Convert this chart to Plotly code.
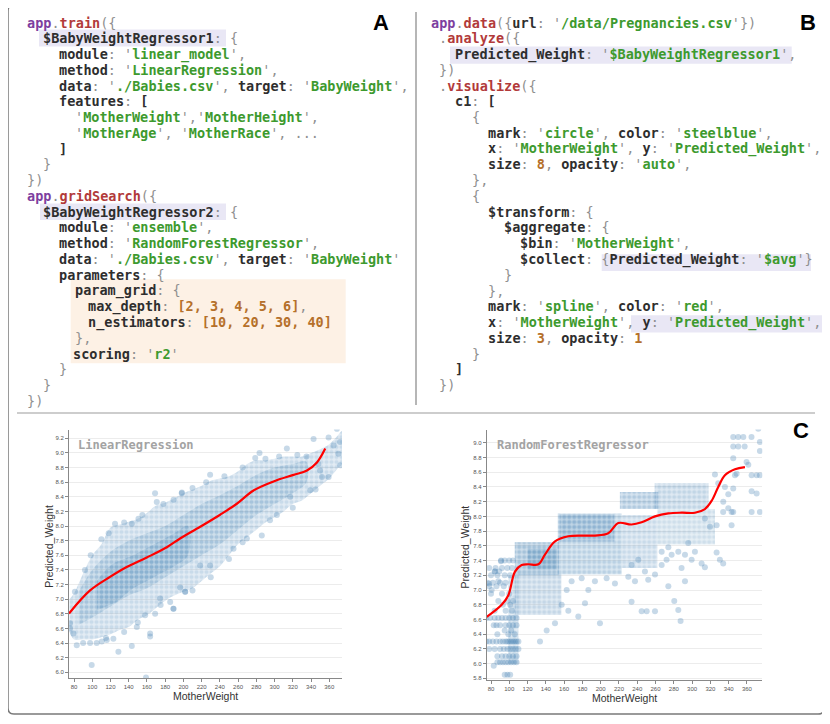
"""
Two code panels plus the two regression scatter plots (Babies data)
"""
import re
import plotly.graph_objects as go

W, H = 830, 724

# ---- code shown in panels A and B ----
CODE_A = [
    "app.train({",
    "$BabyWeightRegressor1: {",
    "module: 'linear_model',",
    "method: 'LinearRegression',",
    "data: './Babies.csv', target: 'BabyWeight',",
    "features: [",
    "'MotherWeight','MotherHeight',",
    "'MotherAge', 'MotherRace', ...",
    "]",
    "}",
    "})",
    "app.gridSearch({",
    "$BabyWeightRegressor2: {",
    "module: 'ensemble',",
    "method: 'RandomForestRegressor',",
    "data: './Babies.csv', target: 'BabyWeight'",
    "parameters: {",
    "param_grid: {",
    "max_depth: [2, 3, 4, 5, 6],",
    "n_estimators: [10, 20, 30, 40]",
    "},",
    "scoring: 'r2'",
    "}",
    "}",
    "})",
]
INDENT_A = [0, 2, 4, 4, 4, 4, 6, 6, 4, 2, 0, 0, 2, 4, 4, 4, 4, 6, 7.6, 7.6, 6, 5.7, 4, 2, 0]

CODE_B = [
    "app.data({url: '/data/Pregnancies.csv'})",
    ".analyze({",
    "Predicted_Weight: '$BabyWeightRegressor1',",
    "})",
    ".visualize({",
    "c1: [",
    "{",
    "mark: 'circle', color: 'steelblue',",
    "x: 'MotherWeight', y: 'Predicted_Weight',",
    "size: 8, opacity: 'auto',",
    "},",
    "{",
    "$transform: {",
    "$aggregate: {",
    "$bin: 'MotherWeight',",
    "$collect: {Predicted_Weight: '$avg'}",
    "}",
    "},",
    "mark: 'spline', color: 'red',",
    "x: 'MotherWeight', y: 'Predicted_Weight',",
    "size: 3, opacity: 1",
    "}",
    "]",
    "})",
]
INDENT_B = [0, 1, 3, 1, 1, 3, 5, 7, 7, 7, 5, 5, 7, 9, 11, 11, 9, 7, 7, 7, 7, 5, 3, 1]

# ---- LinearRegression scatter (cloud outline) ----
lr_outer_x = [75, 80, 90, 100, 110, 120, 130, 140, 150, 160, 170, 180, 190, 200, 210, 220,
              230, 240, 250, 260, 270, 280, 290, 300, 310, 320, 330, 340, 350, 360, 370, 374]
lr_outer_hi = [7.0, 7.08, 7.35, 7.6, 7.75, 7.98, 8.02, 8.06, 8.1, 8.18, 8.28, 8.32, 8.38, 8.45, 8.5, 8.55,
               8.62, 8.65, 8.68, 8.75, 8.85, 8.9, 8.9, 8.92, 8.95, 8.95, 8.95, 9.0, 9.05, 9.12, 9.25, 9.3]
lr_outer_lo = [6.55, 6.45, 6.45, 6.45, 6.48, 6.52, 6.58, 6.62, 6.72, 6.78, 6.88, 6.98, 7.05, 7.1, 7.15, 7.25,
               7.35, 7.45, 7.6, 7.75, 7.85, 7.95, 8.05, 8.12, 8.2, 8.3, 8.35, 8.45, 8.55, 8.65, 8.8, 8.85]
lr_mid_x = [85, 100, 120, 140, 160, 180, 200, 220, 240, 260, 280, 300, 320, 335]
lr_mid_hi = [7.1, 7.4, 7.65, 7.8, 7.9, 8.0, 8.15, 8.3, 8.42, 8.55, 8.7, 8.8, 8.85, 8.88]
lr_mid_lo = [6.65, 6.75, 6.9, 7.05, 7.15, 7.3, 7.45, 7.6, 7.75, 7.95, 8.15, 8.3, 8.45, 8.6]
lr_core_x = [105, 115, 125, 135, 145, 160, 175, 190, 205]
lr_core_hi = [7.25, 7.4, 7.5, 7.55, 7.6, 7.7, 7.8, 7.9, 8.0]
lr_core_lo = [6.85, 6.9, 6.95, 7.05, 7.15, 7.25, 7.35, 7.45, 7.6]
lr_dots = [
    (99.4, 6.10), (128.7, 6.28), (143.4, 6.36), (163.5, 6.53), (163.5, 6.49), (159, 5.93),
    (83, 6.37), (97.6, 6.40), (104.9, 6.40), (110.4, 6.42), (115.9, 6.44), (123.2, 6.46),
    (148.9, 6.62), (158, 6.78), (169, 6.80), (189.2, 6.87), (79.3, 6.53), (75.6, 6.67),
    (81, 7.10), (92, 7.40), (98.3, 7.60), (125, 8.03), (143.4, 8.03), (150.7, 8.10),
    (170.8, 8.33), (189.2, 8.36), (198.3, 8.46), (196.5, 7.16), (202, 7.10), (185.5, 6.96),
    (174.5, 7.01), (368.4, 9.33), (342.8, 9.19), (372, 9.15), (313.5, 9.06), (283.5, 9.0),
    (278.8, 8.93), (229.3, 8.70), (168.9, 8.45), (198.2, 8.45), (359.3, 8.67), (352, 8.67),
    (372, 8.83), (339.2, 8.49), (317.2, 8.40), (302.5, 8.15), (286, 7.87), (269.6, 7.83),
    (255, 7.69), (229.3, 7.46), (218.4, 7.46), (201.9, 7.10), (189, 6.87), (75.6, 6.60),
    (359.3, 9.21), (364.8, 9.10), (370, 8.99), (350, 8.76), (348, 8.85),
    (110, 7.82), (118, 7.9), (135, 8.05), (155, 8.15), (178, 8.3), (210, 8.52), (225, 8.6),
    (245, 8.68), (265, 8.8), (290, 8.92), (305, 8.95), (325, 8.97), (335, 8.95),
    (90, 6.4), (115, 6.47), (135, 6.55), (150, 6.68), (175, 6.92), (210, 7.12), (230, 7.3),
    (250, 7.55), (265, 7.78), (295, 8.08), (320, 8.25), (345, 8.5),
]
lr_avg_x = [74.5, 97.6, 119.5, 137.8, 159.8, 181.8, 196.4, 218.4, 240.3, 258.6, 276.9, 298.9, 320.9, 335.5, 346.5, 355.6]
lr_avg_y = [6.805, 7.12, 7.305, 7.44, 7.57, 7.71, 7.83, 7.99, 8.155, 8.305, 8.486, 8.61, 8.70, 8.76, 8.87, 9.06]

# ---- RandomForestRegressor scatter: dense blocks + loose points ----
rf_block_x0 = [99, 106, 106, 120, 153, 155, 223, 221, 259, 262]
rf_block_x1 = [110, 157, 154, 152, 223, 215, 262, 263, 318, 325]
rf_block_y0 = [6.0, 6.66, 7.2, 7.28, 7.21, 7.66, 7.3, 8.1, 8.1, 7.62]
rf_block_y1 = [7.2, 7.22, 7.65, 7.56, 8.04, 8.03, 8.02, 8.33, 8.45, 8.1]
rf_block_density = [0.24, 0.28, 0.5, 0.34, 0.36, 0.32, 0.26, 0.42, 0.3, 0.22]
rf_row_levels = [7.4, 7.3, 7.25, 7.2, 7.1, 7.05, 6.95, 6.85, 6.8, 6.72, 6.62, 6.52, 6.45, 6.4,
                 6.3, 6.2, 6.1, 6.02, 5.97, 5.85]
rf_row_xs = [
    [91, 95, 100, 104], [78, 85, 92, 98, 103], [84, 89], [80, 87, 95, 101], [76, 82, 90, 96],
    [78, 86, 94], [80, 92, 100], [88, 98, 104], [93, 101], [84, 96, 103],
    [75, 79, 84, 88, 92, 96, 100, 104, 108], [83, 86, 90, 96, 100, 104, 108], [95, 102],
    [87, 99, 106], [75, 78, 82, 86, 90, 93, 96, 98, 100, 102, 104, 106, 108, 110],
    [78, 84, 90, 94, 98, 101, 104, 107, 110], [87, 92, 96, 100, 104, 108],
    [87, 90, 93, 96, 99, 102, 105, 108], [83], [95, 98, 101],
]
rf_dots = [
    (233.8, 6.84), (244.8, 6.71), (250.3, 6.71), (259.4, 6.71), (284.9, 6.73), (287.4, 6.58),
    (280.5, 6.85), (199.2, 6.55), (150, 6.55), (140.9, 6.45), (133.6, 6.30), (175.5, 6.64),
    (164.6, 6.72), (157.3, 6.80), (182.8, 6.82), (274, 7.05), (292.2, 7.12), (288.5, 7.30),
    (314, 7.31), (310.4, 7.36), (326.8, 7.51), (330.4, 7.41), (334, 7.36), (303.1, 7.52),
    (295.8, 7.64), (326.8, 7.88), (343.2, 7.88), (345, 8.06), (339.6, 8.11), (334.1, 8.20),
    (339.6, 8.30), (345, 8.38), (335.9, 8.40), (328.6, 8.45), (325, 8.57), (346.9, 8.56),
    (345, 8.79), (359.6, 8.74), (361.5, 8.70), (348.7, 8.58), (365.1, 8.56), (370.6, 8.56),
    (374.2, 8.56), (374.2, 8.89), (345, 9.08), (350.5, 9.08), (356, 9.08), (345, 8.95),
    (350.5, 8.95), (357.5, 8.95), (365, 9.08), (374.2, 9.01), (372.4, 9.19), (365.1, 8.06),
    (374.2, 8.06), (370.6, 8.31), (365.1, 8.34), (343.2, 8.06), (334, 8.06), (319.5, 7.86),
    (314, 7.97), (230.2, 7.18), (237.5, 7.12), (248.4, 7.25), (252, 7.14), (259.4, 7.21),
    (266.7, 7.34), (272.1, 7.41), (277.6, 7.48), (284.9, 7.52), (292.2, 7.48), (299.5, 7.41),
    (266.7, 7.52), (274, 7.58), (233.8, 7.34), (241.1, 7.41), (168.2, 7.12), (179.2, 7.16),
    (193.7, 7.12), (206.5, 7.16), (215.6, 7.09), (162.8, 7.0), (186.5, 7.0),
    (84.4, 7.25), (90.9, 7.39), (80.7, 7.0), (77.8, 7.09), (88, 7.12),
]
rf_avg_x = [75.3, 91.7, 99, 106.2, 113.5, 120.8, 131.8, 139, 150, 164.6, 179.2, 193.7, 208.3, 219.3,
            233.8, 244.8, 259.4, 274, 288.5, 303.1, 314, 321.3, 328.6, 335.9, 346.9, 357.8]
rf_avg_y = [6.636, 6.80, 6.93, 7.25, 7.34, 7.35, 7.35, 7.48, 7.66, 7.73, 7.74, 7.74, 7.77, 7.91,
            7.89, 7.92, 8.0, 8.04, 8.05, 8.05, 8.10, 8.21, 8.40, 8.56, 8.64, 8.67]

x_ticks = [80, 100, 120, 140, 160, 180, 200, 220, 240, 260, 280, 300, 320, 340, 360]
lr_y_ticks = [6.0, 6.2, 6.4, 6.6, 6.8, 7.0, 7.2, 7.4, 7.6, 7.8, 8.0, 8.2, 8.4, 8.6, 8.8, 9.0, 9.2]
rf_y_ticks = [5.8, 6.0, 6.2, 6.4, 6.6, 6.8, 7.0, 7.2, 7.4, 7.6, 7.8, 8.0, 8.2, 8.4, 8.6, 8.8, 9.0]

STEEL = '#4682b4'
CODE_FONT = 'DejaVu Sans Mono'
C_PUNC, C_KEY, C_STR, C_NUM, C_APP, C_CALL = '#8f8f8f', '#2e2e2e', '#3d9a2e', '#b5702a', '#7d3f9f', '#b23a3a'

# the page body has an 8px margin, so shift everything back by it
OFF = 8


def px(x):
    return (x - OFF) / W


def py(y):
    return 1 - (y - OFF) / H


TOKEN = re.compile(r"(?P<arr>\[\d[\d, ]*\])|(?P<str>'[^']*')|(?P<app>\bapp\b)|(?P<call>(?<=\.)\w+(?=\())"
                   r"|(?P<key>\$?\w+(?=:))|(?P<num>\d+)|(?P<ident>\$?\w+)|(?P<brk>[\[\]])|(?P<punc>[^\w$'\[\]]+)")


def span(txt, color, bold=True):
    txt = txt.replace(' ', '\u00a0')
    s = f"<span style='color:{color}'>{txt}</span>"
    return f"<b>{s}</b>" if bold else s


def highlight(line):
    out = []
    for m in TOKEN.finditer(line):
        kind, txt = m.lastgroup, m.group()
        if kind == 'arr':
            out.append(span(txt, C_NUM))
        elif kind == 'str':
            out.append(span("'", C_PUNC, False) + span(txt[1:-1], C_STR) + span("'", C_PUNC, False))
        elif kind == 'app':
            out.append(span(txt, C_APP))
        elif kind == 'call':
            out.append(span(txt, C_CALL))
        elif kind == 'num':
            out.append(span(txt, C_NUM))
        elif kind in ('key', 'ident', 'brk'):
            out.append(span(txt, C_KEY))
        else:
            out.append(span(txt, C_PUNC, False))
    return ''.join(out)


def rounded_rect(x0, y0, x1, y1, r):
    rx, ry = r / W, r / H
    X0, X1, T, B = px(x0), px(x1), py(y0), py(y1)
    return (f"M {X0 + rx},{T} L {X1 - rx},{T} Q {X1},{T} {X1},{T - ry} L {X1},{B + ry} "
            f"Q {X1},{B} {X1 - rx},{B} L {X0 + rx},{B} Q {X0},{B} {X0},{B + ry} "
            f"L {X0},{T - ry} Q {X0},{T} {X0 + rx},{T} Z")


def dotted(alpha):
    return dict(shape='.', size=5, solidity=0.55, fgcolor=f'rgba(70,130,180,{alpha:.3f})',
                bgcolor=f'rgba(70,130,180,{alpha * 0.45:.3f})')


def band(xs, hi, lo, alpha, xa, ya):
    return go.Scatter(x=xs + xs[::-1], y=hi + lo[::-1], fill='toself', mode='lines',
                      line=dict(width=0, shape='spline'), fillpattern=dotted(alpha),
                      hoverinfo='skip', showlegend=False, xaxis=xa, yaxis=ya)


fig = go.Figure()

# linear regression chart
for xs, hi, lo, a in [(lr_outer_x, lr_outer_hi, lr_outer_lo, 0.34),
                      (lr_mid_x, lr_mid_hi, lr_mid_lo, 0.3),
                      (lr_core_x, lr_core_hi, lr_core_lo, 0.32)]:
    fig.add_trace(band(xs, hi, lo, a, 'x', 'y'))
fig.add_trace(go.Scatter(x=[p[0] for p in lr_dots], y=[p[1] for p in lr_dots], mode='markers',
                         marker=dict(size=6, color=STEEL, opacity=0.3), showlegend=False))
fig.add_trace(go.Scatter(x=lr_avg_x, y=lr_avg_y, mode='lines', line=dict(color='red', width=2.2, shape='spline'),
                         showlegend=False))

# random forest chart
for x0, x1, y0, y1, d in zip(rf_block_x0, rf_block_x1, rf_block_y0, rf_block_y1, rf_block_density):
    fig.add_trace(go.Scatter(x=[x0, x1, x1, x0, x0], y=[y0, y0, y1, y1, y0], fill='toself', mode='lines',
                             line=dict(width=0), fillpattern=dotted(d + 0.08), hoverinfo='skip',
                             showlegend=False, xaxis='x2', yaxis='y2'))
row_x = [x for xs in rf_row_xs for x in xs]
row_y = [lv for lv, xs in zip(rf_row_levels, rf_row_xs) for _ in xs]
fig.add_trace(go.Scatter(x=row_x + [p[0] for p in rf_dots], y=row_y + [p[1] for p in rf_dots], mode='markers',
                         marker=dict(size=6, color=STEEL, opacity=0.3), showlegend=False,
                         xaxis='x2', yaxis='y2'))
fig.add_trace(go.Scatter(x=rf_avg_x, y=rf_avg_y, mode='lines', line=dict(color='red', width=2.2, shape='spline'),
                         showlegend=False, xaxis='x2', yaxis='y2'))

tickfont = dict(family='Liberation Sans', size=6, color='#555')
axis_common = dict(showline=True, linecolor='#888', linewidth=1, ticks='outside', ticklen=3, tickcolor='#888',
                   tickfont=tickfont, zeroline=False)
fig.update_layout(
    width=W, height=H, margin=dict(l=0, r=0, t=0, b=0),
    paper_bgcolor='white', plot_bgcolor='white', showlegend=False,
    xaxis=dict(domain=[px(69), px(342)], range=[74.5, 374], tickvals=x_ticks, showgrid=False, anchor='y',
               **axis_common),
    yaxis=dict(domain=[py(680), py(430.7)], range=[5.92, 9.32], tickvals=lr_y_ticks, tickformat='.1f',
               showgrid=True, gridcolor='#ececec', anchor='x', **axis_common),
    xaxis2=dict(domain=[px(486.7), px(762.3)], range=[75.3, 376.8], tickvals=x_ticks, showgrid=False,
                anchor='y2', **axis_common),
    yaxis2=dict(domain=[py(681.7), py(430.7)], range=[5.78, 9.18], tickvals=rf_y_ticks, tickformat='.1f',
                showgrid=True, gridcolor='#ececec', anchor='x2', **axis_common),
)

shapes = [
    dict(type='path', path=rounded_rect(8, 5, 824, 716, 6), xref='paper', yref='paper',
         line=dict(color='#7a7a7a', width=1.5)),
    dict(type='line', x0=px(17), x1=px(815), y0=py(414), y1=py(414), xref='paper', yref='paper',
         line=dict(color='#bdbdbd', width=1.5)),
    dict(type='line', x0=px(416), x1=px(416), y0=py(12), y1=py(406), xref='paper', yref='paper',
         line=dict(color='#9e9e9e', width=1.5)),
]
for (x0, y0, x1, y1, col) in [(39, 29.5, 226, 46.5, '#e9e7f5'), (40, 204, 226, 220.7, '#e9e7f5'),
                              (70.7, 280, 345.7, 364.3, '#fdf1e5'), (450, 46.7, 791.7, 64, '#e9e7f5'),
                              (601.7, 255, 811, 271.7, '#e9e7f5'), (631, 316, 822.3, 333.3, '#e9e7f5')]:
    shapes.append(dict(type='rect', x0=px(x0), x1=px(x1), y0=py(y1), y1=py(y0), xref='paper', yref='paper',
                       fillcolor=col, line=dict(width=0), layer='below'))
fig.update_layout(shapes=shapes)

annotations = []
CHAR_W, LINE_H = 8.13, 15.8
for code, indent, left in [(CODE_A, INDENT_A, 26.7), (CODE_B, INDENT_B, 431)]:
    for i, (line, ind) in enumerate(zip(code, indent)):
        annotations.append(dict(x=px(left + ind * CHAR_W), y=py(22.7 + i * LINE_H), xref='paper', yref='paper',
                                text=highlight(line), showarrow=False, xanchor='left', yanchor='middle',
                                borderpad=0, borderwidth=0, font=dict(family=CODE_FONT, size=13.5)))

for label, x, y in [('A', 381, 23), ('B', 808, 23), ('C', 801, 432)]:
    annotations.append(dict(x=px(x), y=py(y), xref='paper', yref='paper', text=f'<b>{label}</b>',
                            showarrow=False, xanchor='center', yanchor='middle',
                            font=dict(family='Liberation Sans', size=22, color='black')))

for name, x in [('LinearRegression', 77.7), ('RandomForestRegressor', 496.7)]:
    annotations.append(dict(x=px(x), y=py(446), xref='paper', yref='paper', text=f'<b>{name}</b>',
                            showarrow=False, xanchor='left', yanchor='middle', borderpad=0, borderwidth=0,
                            font=dict(family=CODE_FONT, size=12, color='#a3a3a3')))

axis_font = dict(family='Liberation Sans', size=10.5, color='#333')
for x, y in [(48.3, 548), (465, 549)]:
    annotations.append(dict(x=px(x), y=py(y), xref='paper', yref='paper', text='Predicted_Weight',
                            textangle=-90, showarrow=False, xanchor='center', yanchor='middle', font=axis_font))
for x, y in [(205.5, 698), (624, 700)]:
    annotations.append(dict(x=px(x), y=py(y), xref='paper', yref='paper', text='MotherWeight',
                            showarrow=False, xanchor='center', yanchor='middle', font=axis_font))
fig.update_layout(annotations=annotations)

fig.write_html("out.html")
